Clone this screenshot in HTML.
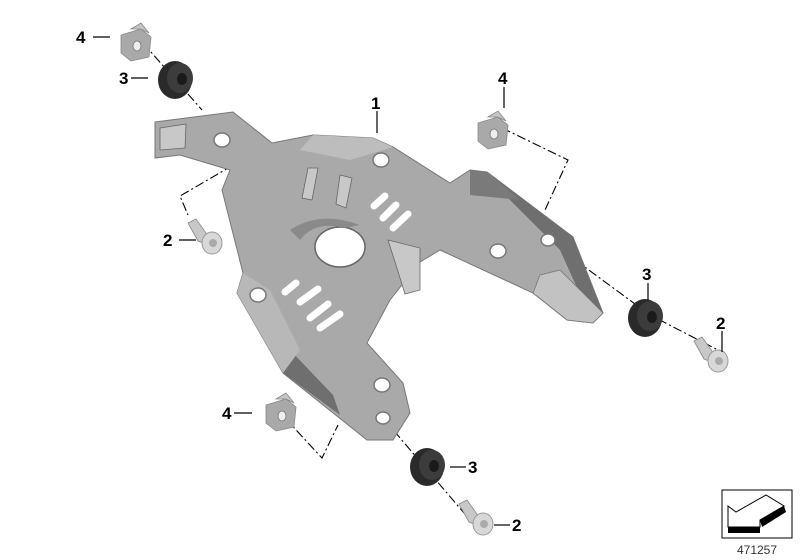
<!DOCTYPE html>
<html><head><meta charset="utf-8"><style>
html,body{margin:0;padding:0;background:#fff;}
svg{display:block;}
.l{font-family:"Liberation Sans",sans-serif;font-weight:bold;font-size:17px;fill:#000;}
</style></head><body>
<svg width="800" height="560" viewBox="0 0 800 560" xmlns="http://www.w3.org/2000/svg">
<defs>
 <g id="grom">
  <ellipse cx="0" cy="0" rx="17" ry="19" fill="#2a2a2a"/>
  <ellipse cx="5" cy="-2" rx="13" ry="15" fill="#3c3c3c"/>
  <ellipse cx="7" cy="-1" rx="5" ry="6" fill="#1a1a1a"/>
 </g>
 <g id="screw">
  <path d="M-24,-16 L-16,-20 L-6,-6 L-4,6 L-14,2 Z" fill="#c8c8c8" stroke="#888" stroke-width="0.8"/>
  <ellipse cx="0" cy="4" rx="10" ry="11" fill="#d8d8d8" stroke="#999" stroke-width="1"/>
  <ellipse cx="1" cy="4" rx="4" ry="4" fill="#aaa"/>
 </g>
 <g id="clip">
  <path d="M-16,-8 L4,-14 L14,-6 L12,14 L-6,18 L-16,10 Z" fill="#a9a9a9" stroke="#888" stroke-width="0.8"/>
  <path d="M-6,-14 L4,-20 L12,-10 L4,-14 Z" fill="#c4c4c4" stroke="#888" stroke-width="0.8"/>
  <ellipse cx="0" cy="3" rx="4" ry="5" fill="#eee" stroke="#777" stroke-width="0.8"/>
 </g>
</defs>

<g stroke="#000" stroke-width="1.1" fill="none" stroke-dasharray="9,3,2,3">
 <path d="M143,43 L202,110"/>
 <path d="M230,140 L242,160 L180,196 L188,215"/>
 <path d="M502,128 L568,160 L545,210"/>
 <path d="M548,240 L650,315 L718,350"/>
 <path d="M285,418 L322,458 L338,425"/>
 <path d="M383,418 L470,520"/>
</g>

<path d="M155,122 L233,112 L272,143 L313,135 L373,138 L393,147 L450,183 L470,170 L487,172 L573,237 L603,313 L593,323 L567,320 L533,293 L440,250 L420,262 L390,300 L367,343 L403,383 L410,413 L393,440 L367,440 L283,373 L237,293 L243,273 L222,190 L230,170 L180,155 L155,158 Z" fill="#a9a9a9" stroke="#777" stroke-width="1"/>
<path d="M487,172 L573,237 L603,313 L593,323 L560,250 L510,200 Z" fill="#6f6f6f"/>
<path d="M470,170 L487,172 L520,200 L470,195 Z" fill="#7a7a7a"/>
<path d="M283,373 L290,350 L333,395 L340,415 Z" fill="#6f6f6f"/>
<path d="M313,135 L373,138 L393,147 L350,160 L300,150 Z" fill="#bdbdbd"/>
<path d="M243,273 L237,293 L283,373 L300,350 L270,290 Z" fill="#b8b8b8"/>
<path d="M533,293 L567,320 L593,323 L603,313 L560,270 L540,275 Z" fill="#c2c2c2" stroke="#777" stroke-width="0.8"/>
<ellipse cx="340" cy="247" rx="25" ry="20" fill="#fff" stroke="#666" stroke-width="1.5"/>
<path d="M290,230 Q320,210 360,225 L345,228 Q315,220 300,240 Z" fill="#8a8a8a"/>
<g fill="#fff" stroke="#777" stroke-width="1.5">
 <ellipse cx="381" cy="160" rx="8" ry="7"/>
 <ellipse cx="258" cy="295" rx="8" ry="7"/>
 <ellipse cx="498" cy="251" rx="8" ry="7"/>
 <ellipse cx="382" cy="385" rx="8" ry="7"/>
 <ellipse cx="222" cy="140" rx="8" ry="7"/>
 <ellipse cx="548" cy="240" rx="7" ry="6"/>
 <ellipse cx="383" cy="418" rx="7" ry="6"/>
</g>
<g stroke="#fff" stroke-width="7" stroke-linecap="round">
 <path d="M374,206 L385,196"/><path d="M383,218 L396,205"/><path d="M393,228 L408,214"/>
 <path d="M285,292 L296,283"/><path d="M300,302 L318,289"/><path d="M310,318 L328,304"/><path d="M320,328 L340,314"/>
</g>
<g fill="#c8c8c8" stroke="#666" stroke-width="0.8">
 <path d="M308,168 L318,168 L312,200 L302,198 Z"/><path d="M340,175 L352,178 L346,208 L336,204 Z"/>
 <path d="M388,240 L420,248 L420,290 L405,294 L395,262 Z"/>
 <path d="M160,128 L186,124 L185,148 L160,150 Z"/>
</g>

<use href="#clip" x="137" y="43"/>
<use href="#grom" x="175" y="80"/>
<use href="#screw" x="212" y="239"/>
<use href="#clip" x="494" y="131"/>
<use href="#grom" x="645" y="318"/>
<use href="#screw" x="718" y="357"/>
<use href="#clip" x="282" y="413"/>
<use href="#grom" x="427" y="467"/>
<use href="#screw" x="483" y="520"/>

<g stroke="#000" stroke-width="1.2">
 <path d="M93,37 L110,37"/><path d="M131,78 L148,78"/>
 <path d="M377,111 L377,133"/>
 <path d="M179,240 L196,240"/>
 <path d="M504,87 L504,108"/>
 <path d="M648,283 L648,300"/>
 <path d="M722,331 L722,352"/>
 <path d="M234,413 L252,413"/>
 <path d="M450,467 L466,467"/>
 <path d="M494,525 L510,525"/>
</g>
<text class="l" x="76" y="43">4</text>
<text class="l" x="119" y="84">3</text>
<text class="l" x="371" y="109">1</text>
<text class="l" x="163" y="246">2</text>
<text class="l" x="498" y="84">4</text>
<text class="l" x="642" y="280">3</text>
<text class="l" x="716" y="329">2</text>
<text class="l" x="222" y="419">4</text>
<text class="l" x="468" y="473">3</text>
<text class="l" x="512" y="531">2</text>

<rect x="722" y="490" width="70" height="48" fill="#fff" stroke="#000" stroke-width="1"/>
<path d="M728,506 L736,512 L766,495 L784,506 L760,520 L760,527 L728,527 Z" fill="#fff" stroke="#000" stroke-width="1"/>
<path d="M728,527 L760,527 L760,533 L728,533 Z" fill="#000"/>
<path d="M784,506 L786,512 L762,527 L760,520 Z" fill="#000"/>
<text x="757" y="554" font-family="Liberation Sans,sans-serif" font-size="12" fill="#333" text-anchor="middle">471257</text>
</svg>
</body></html>
